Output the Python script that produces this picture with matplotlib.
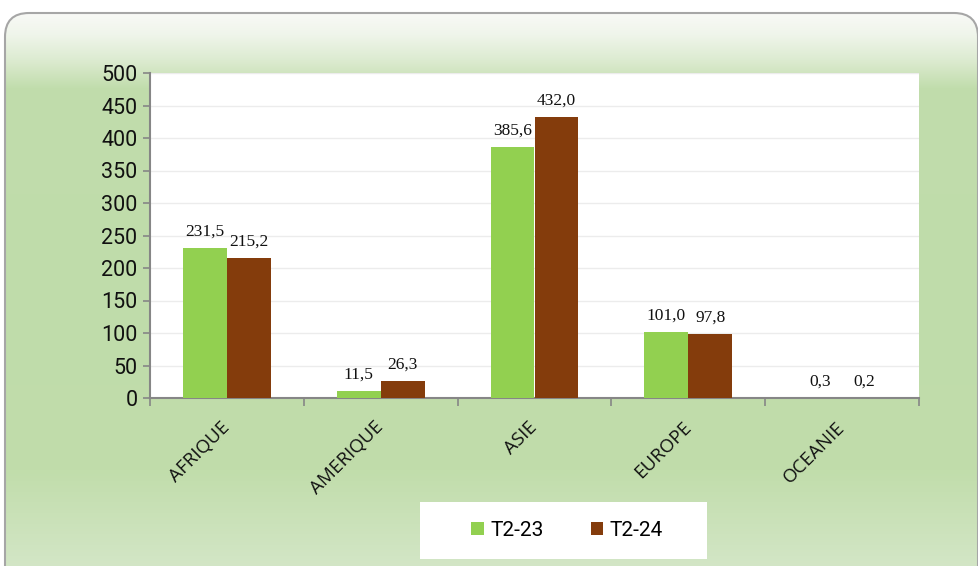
import numpy as np
import matplotlib.pyplot as plt
from matplotlib.patches import FancyBboxPatch, Rectangle
from matplotlib.colors import to_rgb

# Data
regions = ['AFRIQUE', 'AMERIQUE', 'ASIE', 'EUROPE', 'OCEANIE']
t2_23 = [231.5, 11.5, 385.6, 101.0, 0.3]
t2_24 = [215.2, 26.3, 432.0, 97.8, 0.2]
series_names = ['T2-23', 'T2-24']
yticks = [0, 50, 100, 150, 200, 250, 300, 350, 400, 450, 500]

green = '#92d050'
brown = '#843c0c'

W, H = 979, 566
fig = plt.figure(figsize=(W / 100, H / 100), dpi=100)
fig.patch.set_facecolor('white')

# Background rounded panel with vertical green gradient
bg = fig.add_axes([0, 0, 1, 1], zorder=-5)
bg.set_xlim(0, W)
bg.set_ylim(H, 0)
bg.axis('off')
stops_y = [13, 35, 60, 88, 300, 470, 566]
stops_c = ['#f8f9f6', '#eff5ea', '#dcebd0', '#c1ddac', '#bfdcaa', '#c1ddab', '#d3e6c6']
rgb = np.array([to_rgb(c) for c in stops_c])
ys = np.arange(H)
grad = np.stack([np.interp(ys, stops_y, rgb[:, k]) for k in range(3)], axis=1)
img = np.repeat(grad[:, None, :], 2, axis=1)
im = bg.imshow(img, extent=(0, W, H, 0), aspect='auto', interpolation='bilinear')
panel = FancyBboxPatch((5, 13), 973, 600, boxstyle='round,pad=0,rounding_size=24',
                       facecolor='none', edgecolor='#a6a6a6', lw=1.5)
bg.add_patch(panel)
im.set_clip_path(panel)

# Main chart
ax = fig.add_axes([150 / W, 1 - 398 / H, 769 / W, 325 / H])
ax.set_facecolor('white')
x = np.arange(len(regions))
bw = 0.285
b1 = ax.bar(x - bw / 2, t2_23, bw, color=green, zorder=3, label=series_names[0])
b2 = ax.bar(x + bw / 2, t2_24, bw, color=brown, zorder=3, label=series_names[1])

for bars, vals in [(b1, t2_23), (b2, t2_24)]:
    for rect, v in zip(bars, vals):
        ax.annotate(f'{v:.1f}'.replace('.', ','),
                    (rect.get_x() + rect.get_width() / 2, rect.get_height()),
                    xytext=(0, 6), textcoords='offset points', ha='center', va='bottom',
                    fontsize=12.5, family='Liberation Serif', color='#111111')

ax.set_xlim(-0.5, len(regions) - 0.5)
ax.set_ylim(0, 500)
ax.set_yticks(yticks)
ax.set_yticklabels([str(v) for v in yticks], fontsize=15.5, family='Roboto', color='#111111')
ax.yaxis.grid(True, color='#ececec', lw=1, zorder=0)
ax.tick_params(axis='y', length=5, color='#868686', width=1.2, pad=4)

ax.set_xticks(x)
ax.set_xticklabels(regions, rotation=45, ha='right', va='center', rotation_mode='anchor',
                   fontsize=13.5, family='Open Sans', color='#111111')
ax.tick_params(axis='x', which='major', length=0, pad=19)
ax.set_xticks(np.arange(-0.5, len(regions), 1), minor=True)
ax.tick_params(axis='x', which='minor', length=6, color='#868686', width=1.2)

for s in ['top', 'right']:
    ax.spines[s].set_visible(False)
for s in ['left', 'bottom']:
    ax.spines[s].set_color('#868686')
    ax.spines[s].set_linewidth(1.5)

# Legend box
fig.patches.append(Rectangle((420 / W, 1 - 559 / H), 287 / W, 57 / H,
                             transform=fig.transFigure, facecolor='white',
                             edgecolor='none', zorder=1))
leg = fig.legend(handles=[b1, b2], labels=series_names, loc='center',
                 bbox_to_anchor=(567 / W, 1 - 530 / H), ncol=2, frameon=False,
                 prop={'family': 'Roboto', 'size': 15}, handlelength=0.6,
                 handleheight=0.6, handletextpad=0.3, columnspacing=2.25)
leg.set_zorder(2)

fig.savefig('out.png', dpi=100)
